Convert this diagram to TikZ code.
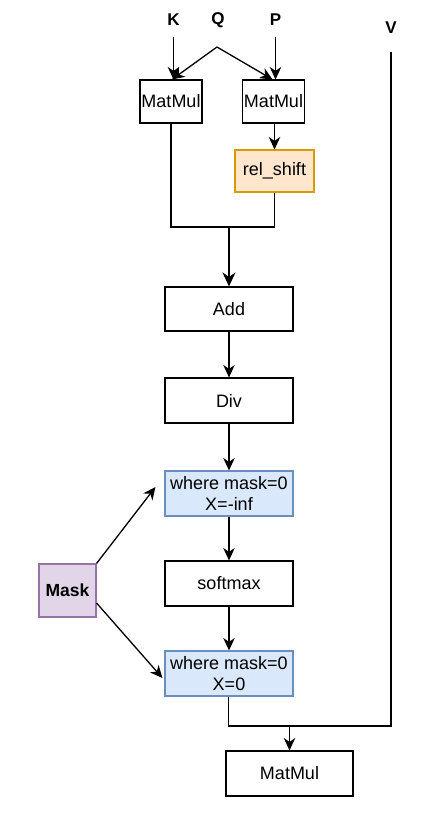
\documentclass[tikz,border=0pt]{standalone}
\usepackage{fontspec}
\setmainfont{Liberation Sans}
\usetikzlibrary{arrows.meta}
\definecolor{orangeF}{HTML}{FFE6CC}
\definecolor{orangeD}{HTML}{D79B00}
\definecolor{blueF}{HTML}{DAE8FC}
\definecolor{blueD}{HTML}{6C8EBF}
\definecolor{purpleF}{HTML}{E1D5E7}
\definecolor{purpleD}{HTML}{9673A6}
\begin{document}
\begin{tikzpicture}[x=1pt,y=-1pt,
  box/.style={draw=black, line width=1.1pt, inner sep=0pt, align=center,
    font=\fontsize{18}{21}\selectfont},
  lbl/.style={inner sep=0pt, font=\fontsize{17}{20}\selectfont\bfseries},
  conn/.style={line width=1.3pt, line join=miter},
  arr/.style={conn, -{Stealth[length=12.5pt,width=11.5pt,inset=4pt]}},
  bigarr/.style={line width=2.2pt, -{Stealth[length=14pt,width=13pt,inset=4.5pt]}}
]
\useasboundingbox (0,0) rectangle (430,822);

% labels
\node[lbl] (K) at (173.5,20) {K};
\node[lbl] (Q) at (218,20) {Q};
\node[lbl] (P) at (275.5,20) {P};
\node[lbl] (V) at (391,28) {V};

% boxes
\node[box, minimum width=62pt, minimum height=43pt] (mm1) at (171,101.5) {MatMul};
\node[box, minimum width=62pt, minimum height=43pt] (mm2) at (273.5,101.5) {MatMul};
\node[box, draw=orangeD, fill=orangeF, minimum width=79pt, minimum height=42pt] (rs) at (274.5,171) {rel\_shift};
\node[box, minimum width=128pt, minimum height=44pt] (add) at (229,309) {Add};
\node[box, minimum width=128pt, minimum height=45pt] (div) at (229,400.5) {Div};
\node[box, draw=blueD, fill=blueF, minimum width=128pt, minimum height=45pt] (w1) at (229,493.5) {where mask=0\\X=-inf};
\node[box, minimum width=128pt, minimum height=45pt] (sm) at (229,583.5) {softmax};
\node[box, draw=blueD, fill=blueF, minimum width=128pt, minimum height=45pt] (w2) at (229,673.5) {where mask=0\\X=0};
\node[box, draw=purpleD, fill=purpleF, minimum width=57pt, minimum height=53pt, font=\fontsize{17.5}{21}\selectfont\bfseries] (mask) at (67.5,590.5) {Mask};
\node[box, minimum width=127pt, minimum height=45pt] (mm3) at (289.5,773.5) {MatMul};

\coordinate (qa) at (217,47);
\coordinate (j) at (229,227);
\coordinate (j2) at (289.5,726);

% connectors
\draw[arr, shorten <=11pt] (K.south) -- (K.south |- mm1.north);
\draw[arr, shorten <=11pt] (P.south) -- (P.south |- mm2.north);
\draw[arr] (qa) -- ([xshift=1pt]mm1.north);
\draw[arr] (qa) -- ([xshift=-1pt]mm2.north);
\draw[arr] (mm2.south -| rs.north) -- (rs.north);
\draw[conn] (mm1.south) |- (j) -| (rs.south);
\draw[bigarr] (j) -- (add.north);
\draw[arr] (add) -- (div);
\draw[arr] (div) -- (w1);
\draw[arr] (w1) -- (sm);
\draw[arr] (sm) -- (w2);
\draw[arr] (mask.north east) -- ([xshift=-9pt,yshift=6.5pt]w1.west);
\draw[arr] ([yshift=-12.5pt]mask.east) -- ([xshift=-2pt,yshift=-4.5pt]w2.west);
\draw[conn, shorten >=18pt] ([xshift=-0.5pt]w2.south) |- (j2) -| (V.south);
\draw[arr] (j2) -- (mm3.north);
\end{tikzpicture}
\end{document}
